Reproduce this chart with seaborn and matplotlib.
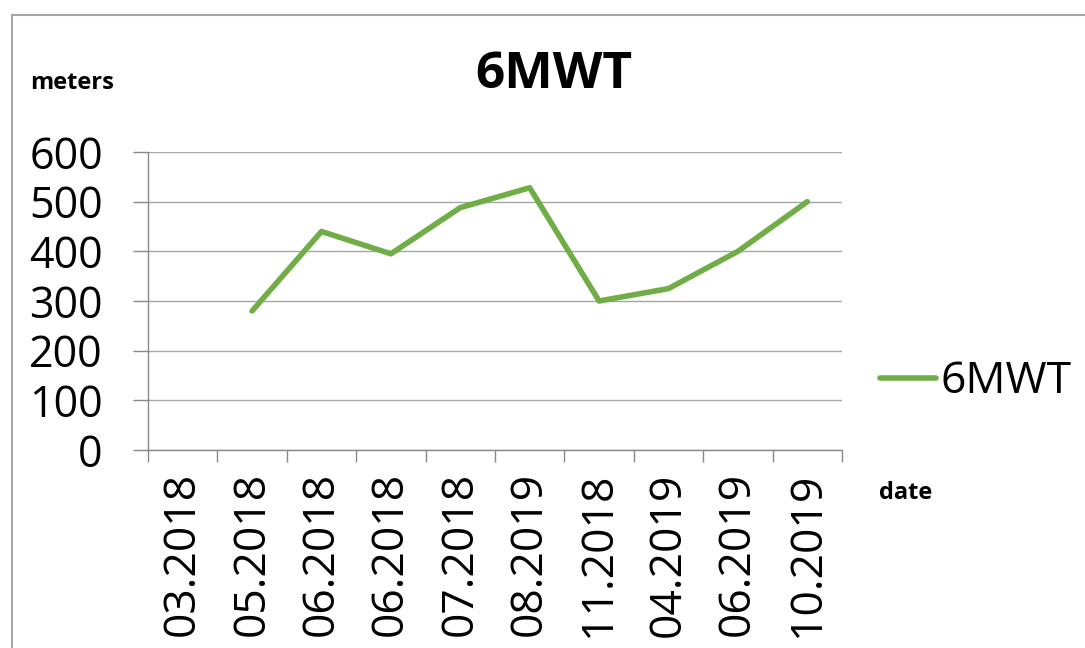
import pandas as pd
import numpy as np
import seaborn as sns
import matplotlib.pyplot as plt
from matplotlib.patches import Rectangle

dates = ['03.2018', '05.2018', '06.2018', '06.2018', '07.2018',
         '08.2019', '11.2018', '04.2019', '06.2019', '10.2019']
meters = [np.nan, 280, 440, 395, 488, 528, 300, 325, 400, 500]
y_ticks = [0, 100, 200, 300, 400, 500, 600]

df = pd.DataFrame({'pos': range(len(dates)), 'meters': meters})

sns.set_style('white')
plt.rcParams['font.family'] = ['Open Sans', 'DejaVu Sans']
plt.rcParams['text.color'] = 'black'
plt.rcParams['xtick.labelcolor'] = 'black'
plt.rcParams['ytick.labelcolor'] = 'black'

fig = plt.figure(figsize=(10.85, 6.48), dpi=100)
ax = fig.add_axes([148 / 1085, 1 - 450 / 648, 694 / 1085, 298 / 648])

sns.lineplot(data=df, x='pos', y='meters', color='#70AD47', linewidth=4,
             estimator=None, label='6MWT', ax=ax)

# axes look like an old Excel chart
ax.set_xlim(-0.5, len(dates) - 0.5)
ax.set_ylim(0, 600)
ax.set_yticks(y_ticks)
ax.set_xticks(range(len(dates)))
ax.set_xticklabels(dates, rotation=90)
ax.set_xticks(np.arange(-0.5, len(dates)), minor=True)
ax.tick_params(axis='x', which='major', length=0, pad=16, labelsize=32,
               labelcolor='black')
ax.tick_params(axis='x', which='minor', length=8.6, width=1, color='#898989',
               direction='out', bottom=True)
ax.tick_params(axis='y', length=10.5, width=1, color='#898989', direction='out',
               left=True, pad=22, labelsize=31, labelcolor='black')
ax.grid(axis='y', color='#A6A6A6', linewidth=1)
for side in ['top', 'right']:
    ax.spines[side].set_visible(False)
for side in ['left', 'bottom']:
    ax.spines[side].set_color('#898989')
    ax.spines[side].set_linewidth(1)
ax.set_xlabel('')
ax.set_ylabel('')

leg = ax.legend(loc='center left', bbox_to_anchor=(880 / 1085, 1 - 382 / 648),
                bbox_transform=fig.transFigure, frameon=False, fontsize=32,
                handlelength=1.25, handletextpad=0.12, borderpad=0,
                borderaxespad=0)
for t in leg.get_texts():
    t.set_color('black')

fig.text(554 / 1085, 1 - 75 / 648, '6MWT', ha='center', va='center',
         fontsize=37, fontweight='bold', color='black')
fig.text(30 / 1085, 1 - 83 / 648, 'meters', ha='left', va='center',
         fontsize=17, fontweight='bold', color='black')
fig.text(879 / 1085, 1 - 493 / 648, 'date', ha='left', va='center',
         fontsize=17, fontweight='bold', color='black')

fig.add_artist(Rectangle((12 / 1085, -0.2), 1.5, 1.2 - 15 / 648,
                         transform=fig.transFigure, fill=False,
                         edgecolor='#A6A6A6', linewidth=1.5))

fig.savefig('out.png', dpi=100)
